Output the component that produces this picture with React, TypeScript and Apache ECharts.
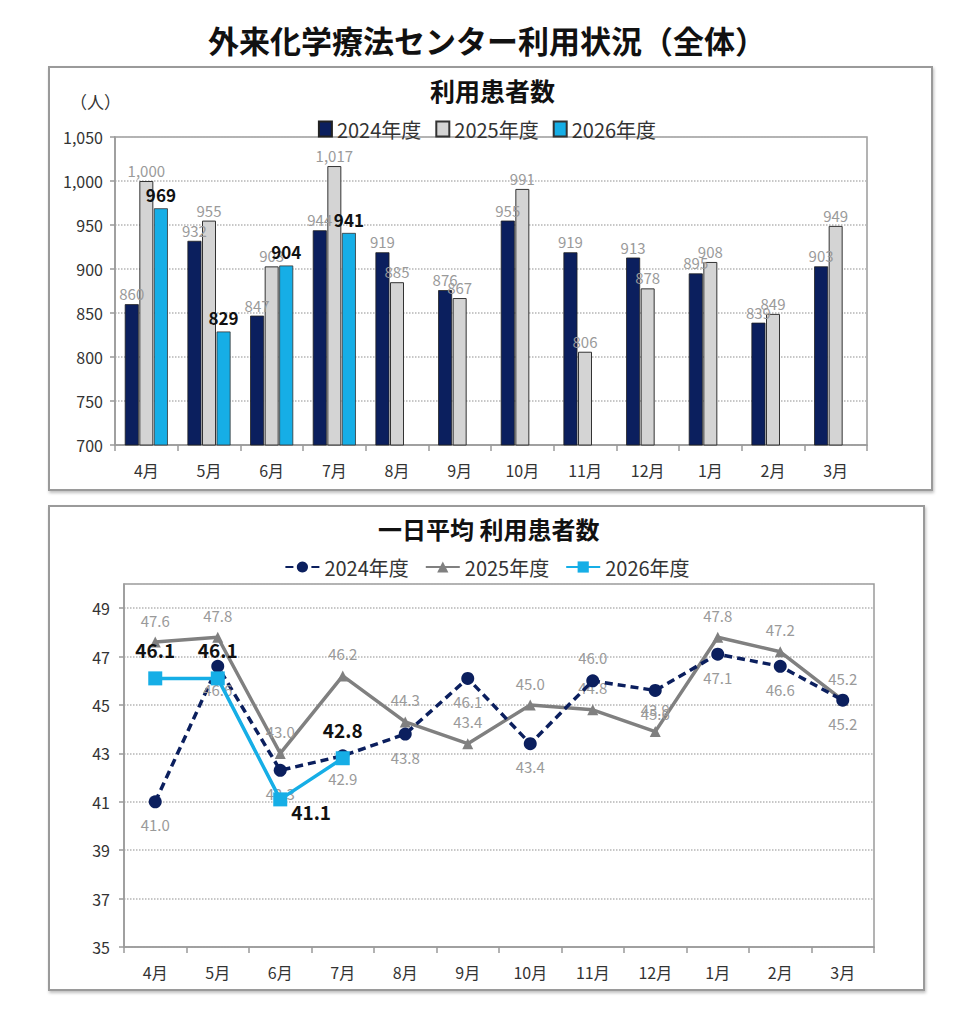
import React, { useEffect, useRef } from "react";
import * as echarts from "echarts";

const months = ["4月", "5月", "6月", "7月", "8月", "9月", "10月", "11月", "12月", "1月", "2月", "3月"];
const years = ["2024年度", "2025年度", "2026年度"];

const patients2024 = [860, 932, 847, 944, 919, 876, 955, 919, 913, 895, 839, 903];
const patients2025 = [1000, 955, 903, 1017, 885, 867, 991, 806, 878, 908, 849, 949];
const patients2026 = [969, 829, 904, 941, null, null, null, null, null, null, null, null];

const avg2024 = [41.0, 46.6, 42.3, 42.9, 43.8, 46.1, 43.4, 46.0, 45.6, 47.1, 46.6, 45.2];
const avg2025 = [47.6, 47.8, 43.0, 46.2, 44.3, 43.4, 45.0, 44.8, 43.9, 47.8, 47.2, 45.2];
const avg2026 = [46.1, 46.1, 41.1, 42.8, null, null, null, null, null, null, null, null];

const FF = "'Noto Sans CJK JP', 'Noto Sans', sans-serif";
const NAVY = "#0b1f5e";
const GRAY = "#d4d4d4";
const CYAN = "#16aee6";
const LGRAY = "#808080";

function fmt(v: number) {
  return v.toLocaleString("en-US");
}

export default function App() {
  const ref = useRef<HTMLDivElement>(null);
  useEffect(() => {
    if (!ref.current) return;
    const chart = echarts.init(ref.current, null, { renderer: "svg" });

    const barBase = {
      type: "bar",
      xAxisIndex: 0,
      yAxisIndex: 0,
      barWidth: 14,
      barGap: "4%",
    };
    const smallLbl = { show: true, position: "top", distance: 3, color: "#9a9a9a", fontSize: 15, fontFamily: FF, formatter: (p: any) => fmt(p.value) };

    const line2024Data = avg2024.map((v, i) => ({
      value: v,
      label: { position: i === 7 ? "top" : "bottom" },
    }));
    const line2026Data = avg2026.map((v, i) =>
      i === 2
        ? { value: v, label: { position: "right", distance: 4, offset: [0, 12] } }
        : { value: v }
    );

    const option: any = {
      animation: false,
      textStyle: { fontFamily: FF },
      graphic: [
        {
          type: "rect",
          shape: { x: 49, y: 67, width: 883, height: 423 },
          style: { fill: "#fff", stroke: "#9a9a9a", lineWidth: 2, shadowBlur: 3, shadowOffsetX: 1, shadowOffsetY: 2, shadowColor: "rgba(0,0,0,0.25)" },
          z: -10,
        },
        {
          type: "rect",
          shape: { x: 49, y: 506, width: 875, height: 484 },
          style: { fill: "#fff", stroke: "#9a9a9a", lineWidth: 2, shadowBlur: 3, shadowOffsetX: 1, shadowOffsetY: 2, shadowColor: "rgba(0,0,0,0.25)" },
          z: -10,
        },
        {
          type: "text",
          x: 70,
          y: 93,
          style: { text: "（人）", fill: "#333", fontSize: 17, fontFamily: FF },
        },
      ],
      title: [
        { text: "外来化学療法センター利用状況（全体）", left: "center", top: 24, padding: 0, textStyle: { fontSize: 31, fontWeight: "bold", color: "#111", fontFamily: FF } },
        { text: "利用患者数", left: 430, top: 77, padding: 0, textStyle: { fontSize: 25, fontWeight: "bold", color: "#111", fontFamily: FF } },
        { text: "一日平均 利用患者数", left: 378, top: 516, padding: 0, textStyle: { fontSize: 24, fontWeight: "bold", color: "#111", fontFamily: FF } },
      ],
      legend: [
        {
          data: years,
          left: "center",
          top: 114,
          itemWidth: 13,
          itemHeight: 15,
          itemGap: 14,
          icon: "rect",
          textStyle: { fontSize: 20, color: "#333", fontFamily: FF },
        },
        {
          data: years.map((y) => "avg" + y),
          formatter: (n: string) => n.replace("avg", ""),
          left: "center",
          top: 552,
          itemWidth: 34,
          itemHeight: 14,
          itemGap: 16,
          textStyle: { fontSize: 20, color: "#333", fontFamily: FF },
        },
      ],
      grid: [
        { left: 115, top: 137, width: 752, height: 308, show: true, borderColor: "#9a9a9a", borderWidth: 1.5, backgroundColor: "transparent" },
        { left: 124, top: 584, width: 750, height: 363, show: true, borderColor: "#9a9a9a", borderWidth: 1.5, backgroundColor: "transparent" },
      ],
      xAxis: [0, 1].map((g) => ({
        type: "category",
        gridIndex: g,
        data: months,
        boundaryGap: true,
        axisLine: { lineStyle: { color: "#9a9a9a", width: 1.5 } },
        axisTick: { show: true, length: 6, lineStyle: { color: "#9a9a9a", width: 1.5 }, alignWithLabel: false },
        axisLabel: { color: "#333", fontSize: 16, margin: 17, fontFamily: FF },
      })),
      yAxis: [
        {
          type: "value",
          gridIndex: 0,
          min: 700,
          max: 1050,
          interval: 50,
          axisLine: { show: true, lineStyle: { color: "#9a9a9a", width: 1.5 } },
          axisTick: { show: true, length: 5, lineStyle: { color: "#9a9a9a", width: 1.5 } },
          axisLabel: { color: "#333", fontSize: 16, margin: 12, fontFamily: FF, formatter: (v: number) => fmt(v) },
          splitLine: { show: true, lineStyle: { color: "#b5b5b5", type: "dotted", width: 1.5 } },
        },
        {
          type: "value",
          gridIndex: 1,
          min: 35,
          max: 50,
          interval: 2,
          axisLine: { show: true, lineStyle: { color: "#9a9a9a", width: 1.5 } },
          axisTick: { show: true, length: 5, lineStyle: { color: "#9a9a9a", width: 1.5 } },
          axisLabel: { color: "#333", fontSize: 16, margin: 14, fontFamily: FF, showMaxLabel: false },
          splitLine: { show: true, lineStyle: { color: "#b5b5b5", type: "dotted", width: 1.5 } },
        },
      ],
      series: [
        {
          ...barBase,
          name: years[0],
          data: patients2024,
          itemStyle: { color: NAVY, borderColor: "#222", borderWidth: 0.8 },
          label: smallLbl,
        },
        {
          ...barBase,
          name: years[1],
          data: patients2025,
          itemStyle: { color: GRAY, borderColor: "#333", borderWidth: 1 },
          label: smallLbl,
        },
        {
          ...barBase,
          name: years[2],
          data: patients2026,
          itemStyle: { color: CYAN, borderColor: "#333", borderWidth: 0.8 },
          label: { show: true, position: "top", distance: 5, color: "#111", fontSize: 17, fontWeight: "bold", fontFamily: FF },
        },
        {
          type: "line",
          name: "avg" + years[0],
          xAxisIndex: 1,
          yAxisIndex: 1,
          data: line2024Data,
          symbol: "circle",
          symbolSize: 13,
          itemStyle: { color: NAVY },
          lineStyle: { color: NAVY, width: 3.5, type: [8, 5] },
          label: { show: true, distance: 9, color: "#9a9a9a", fontSize: 15, fontFamily: FF, formatter: (p: any) => p.value.toFixed(1) },
          z: 3,
        },
        {
          type: "line",
          name: "avg" + years[1],
          xAxisIndex: 1,
          yAxisIndex: 1,
          data: avg2025,
          symbol: "triangle",
          symbolSize: 11,
          itemStyle: { color: LGRAY },
          lineStyle: { color: LGRAY, width: 3.5 },
          label: { show: true, position: "top", distance: 9, color: "#9a9a9a", fontSize: 15, fontFamily: FF, formatter: (p: any) => p.value.toFixed(1) },
          z: 2,
        },
        {
          type: "line",
          name: "avg" + years[2],
          xAxisIndex: 1,
          yAxisIndex: 1,
          data: line2026Data,
          symbol: "rect",
          symbolSize: 14,
          connectNulls: false,
          itemStyle: { color: CYAN },
          lineStyle: { color: CYAN, width: 3.5 },
          label: { show: true, position: "top", distance: 12, color: "#111", fontSize: 19, fontWeight: "bold", fontFamily: FF, formatter: (p: any) => p.value.toFixed(1) },
          z: 4,
        },
      ],
    };
    chart.setOption(option);
    return () => chart.dispose();
  }, []);

  return (
    <div
      ref={ref}
      style={{ position: "absolute", left: 0, top: 0, width: 974, height: 1024, background: "#fff" }}
    />
  );
}
